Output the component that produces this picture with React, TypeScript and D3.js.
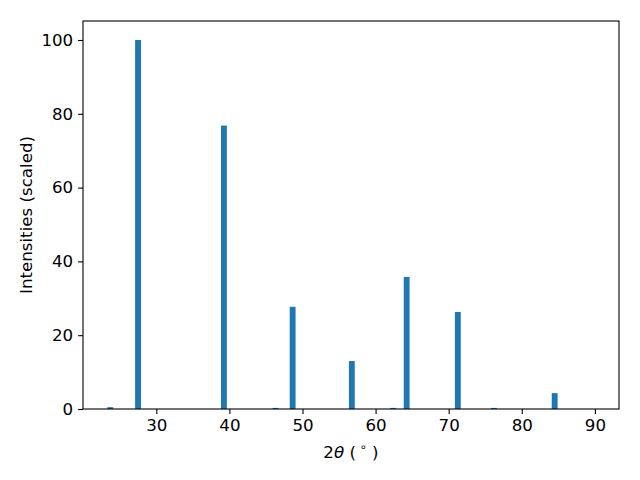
import React, { useEffect, useRef } from "react";
import { select, scaleLinear, axisBottom, axisLeft } from "d3";

// peak positions (2theta, degrees) and scaled intensities
const angles = [23.7, 27.5, 39.25, 46.3, 48.65, 56.75, 62.4, 64.25, 71.25, 76.2, 84.5, 89.6];
const intensities = [0.5, 100, 76.8, 0.3, 27.7, 13.0, 0.3, 35.8, 26.3, 0.3, 4.3, 0];
const xTicks = [30, 40, 50, 60, 70, 80, 90];
const yTicks = [0, 20, 40, 60, 80, 100];

const App = () => {
  const svgRef = useRef<SVGSVGElement>(null);

  useEffect(() => {
    const margin = { top: 21, right: 21, bottom: 71, left: 83 };
    const width = 640 - margin.left - margin.right;
    const height = 480 - margin.top - margin.bottom;
    const font = "DejaVu Sans, sans-serif";
    const fontSize = 16.67;

    const svg = select(svgRef.current);
    svg.selectAll("*").remove();

    const g = svg
      .append("g")
      .attr("transform", `translate(${margin.left}, ${margin.top})`);

    // Scales
    const x = scaleLinear().domain([19.97, 93.3]).range([0, width]);
    const y = scaleLinear().domain([0, 105.15]).range([height, 0]);
    const barW = x(0.8) - x(0);

    // Bars
    g.selectAll("rect.bar")
      .data(angles.map((a, i) => ({ a, v: intensities[i] })))
      .enter()
      .append("rect")
      .attr("class", "bar")
      .attr("x", (d) => x(d.a) - barW / 2)
      .attr("width", barW)
      .attr("y", (d) => y(d.v))
      .attr("height", (d) => height - y(d.v))
      .attr("fill", "#1f77b4");

    // Axes
    const xAxis = axisBottom(x).tickValues(xTicks).tickSize(4.9).tickPadding(4.9);
    const yAxis = axisLeft(y).tickValues(yTicks).tickSize(4.9).tickPadding(4.9);

    const gx = g.append("g").attr("transform", `translate(0, ${height})`).call(xAxis);
    const gy = g.append("g").call(yAxis);

    [gx, gy].forEach((ax) => {
      ax.select(".domain").remove();
      ax.selectAll("line").attr("stroke", "#000").attr("stroke-width", 1.1);
      ax.selectAll("text")
        .attr("fill", "#000")
        .style("font-family", font)
        .style("font-size", `${fontSize}px`);
    });

    // Frame
    g.append("rect")
      .attr("width", width)
      .attr("height", height)
      .attr("fill", "none")
      .attr("stroke", "#000")
      .attr("stroke-width", 1.1);

    // Axis labels
    const xl = g
      .append("text")
      .attr("x", width / 2)
      .attr("y", height + 49)
      .attr("text-anchor", "middle")
      .style("font-family", font)
      .style("font-size", `${fontSize}px`)
      .attr("fill", "#000");
    xl.append("tspan").text("2");
    xl.append("tspan").style("font-style", "italic").text("θ");
    xl.append("tspan").text(" (");
    xl.append("tspan").attr("dy", -7).style("font-size", "11.5px").text(" ∘");
    xl.append("tspan").attr("dy", 7).text(" )");

    g.append("text")
      .attr("transform", `translate(${-51}, ${height / 2}) rotate(-90)`)
      .attr("text-anchor", "middle")
      .style("font-family", font)
      .style("font-size", `${fontSize}px`)
      .attr("fill", "#000")
      .text("Intensities (scaled)");
  }, []);

  return (
    <svg
      ref={svgRef}
      width={640}
      height={480}
      style={{ position: "absolute", left: 0, top: 0, background: "#fff" }}
    ></svg>
  );
};

export default App;
